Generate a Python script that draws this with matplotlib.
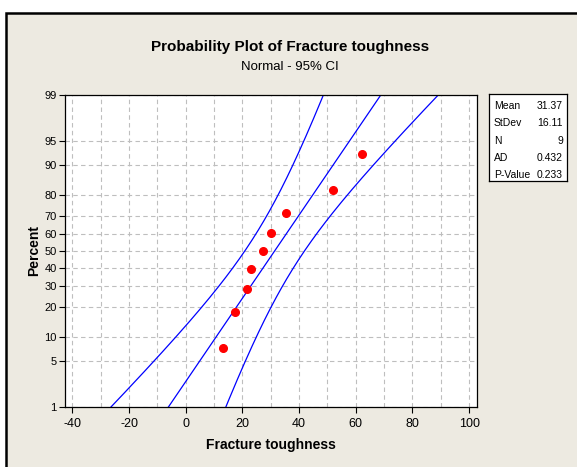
import matplotlib.pyplot as plt
import numpy as np
from statistics import NormalDist
from matplotlib.patches import Rectangle

# data
toughness = [13.1, 17.4, 21.7, 23.1, 27.3, 30.1, 35.5, 51.9, 62.1]
pct_ticks = [1, 5, 10, 20, 30, 40, 50, 60, 70, 80, 90, 95, 99]
x_ticks = [-40, -20, 0, 20, 40, 60, 80, 100]
stat_names = ["Mean", "StDev", "N", "AD", "P-Value"]
stat_values = ["31.37", "16.11", "9", "0.432", "0.233"]
mean = 31.37
stdev = 16.11

plt.rcParams['font.family'] = ['Liberation Sans', 'DejaVu Sans']
plt.rcParams['axes.unicode_minus'] = False

nd = NormalDist()
def z(p):
    return nd.inv_cdf(p / 100.0)

n = len(toughness)
xs = np.sort(toughness)
ranks = (np.arange(1, n + 1) - 0.3) / (n + 0.4) * 100
zs = [z(p) for p in ranks]

# fitted line and 95% CI
zz = np.linspace(-3, 3, 300)
fit = mean + stdev * zz
half = 1.96 * stdev * np.sqrt(1 / n + zz ** 2 / (2 * n))

W, H = 577, 467
fig = plt.figure(figsize=(W / 100, H / 100), dpi=100, facecolor='white')
bg = '#EDEAE1'
fig.patches.append(Rectangle((5.5 / W, -0.1), 1.2, (H - 12.5) / H + 0.1,
                             transform=fig.transFigure, facecolor=bg,
                             edgecolor='black', linewidth=1.8, zorder=-10))

ax = fig.add_axes([65 / W, (H - 407) / H, 412 / W, 312 / H])
ax.set_facecolor('white')
ax.plot(fit, zz, color='blue', lw=0.9)
ax.plot(fit - half, zz, color='blue', lw=0.9)
ax.plot(fit + half, zz, color='blue', lw=0.9)
ax.plot(xs, zs, 'o', color='red', ms=5.5, zorder=5)

ax.set_xlim(-42.6, 102.8)
ax.set_ylim(z(1), z(99))
ax.set_xticks(x_ticks)
ax.set_xticks(range(-30, 101, 20), minor=True)
ax.set_yticks([z(p) for p in pct_ticks])
ax.set_yticklabels([str(p) for p in pct_ticks])
ax.tick_params(labelsize=9, length=4, width=0.8, pad=4)
ax.tick_params(axis='y', labelsize=8, pad=2)
ax.tick_params(axis='x', which='minor', length=0)
ax.grid(True, which='both', color='#BEBEBE', linestyle=(0, (4, 3)), lw=0.8)
ax.set_axisbelow(True)
for s in ax.spines.values():
    s.set_linewidth(0.9)

ax.set_xlabel('Fracture toughness', fontsize=10, fontweight='bold', labelpad=6)
ax.set_ylabel('Percent', fontsize=10, fontweight='bold', labelpad=2)

fig.text(290 / W, 1 - 47 / H, 'Probability Plot of Fracture toughness',
         ha='center', va='center', fontsize=11, fontweight='bold')
fig.text(290 / W, 1 - 67 / H, 'Normal - 95% CI', ha='center', va='center',
         fontsize=9.5)

# statistics box
bx = fig.add_axes([489 / W, (H - 181) / H, 78 / W, 87 / H])
bx.set_xticks([])
bx.set_yticks([])
bx.set_facecolor('white')
for s in bx.spines.values():
    s.set_linewidth(0.9)
rows_y = [105.7, 123.3, 140.7, 158.3, 175]
for name, val, ry in zip(stat_names, stat_values, rows_y):
    fig.text(494 / W, 1 - ry / H, name, ha='left', va='center', fontsize=7.5)
    fig.text(563 / W, 1 - ry / H, val, ha='right', va='center', fontsize=7.5)

plt.savefig('out.png', dpi=100, facecolor=fig.get_facecolor())
